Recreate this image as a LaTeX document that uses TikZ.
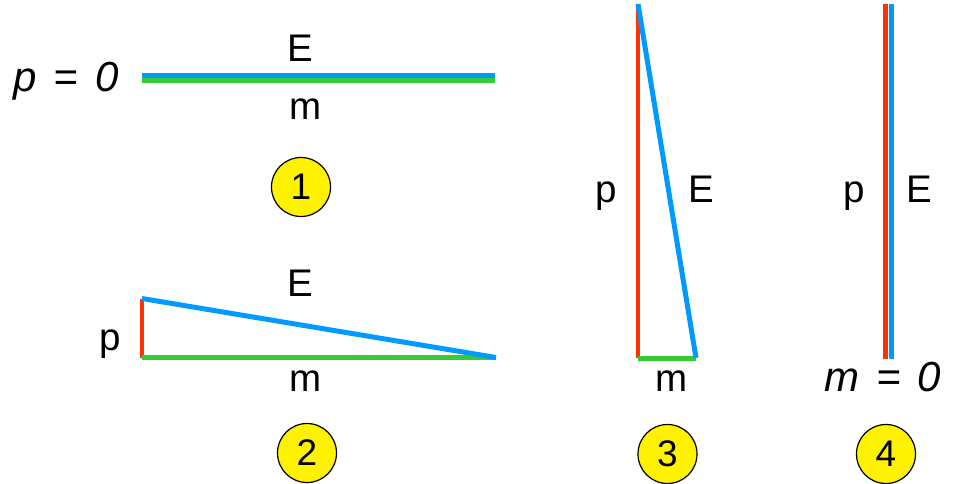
\documentclass[tikz,border=0pt]{standalone}
\usepackage{fontspec}
\setmainfont{Liberation Sans}
\definecolor{Ecol}{RGB}{0,153,255}
\definecolor{mcol}{RGB}{51,204,51}
\definecolor{pcol}{RGB}{255,51,0}
\tikzset{
  lbl/.style={anchor=base,inner sep=0pt,font=\fontsize{38.5}{44}\selectfont},
  eqlbl/.style={anchor=base,inner sep=0pt,font=\fontsize{42}{48}\selectfont\itshape},
  num/.style={circle,draw,line width=1.2pt,fill=yellow,minimum size=59pt,inner sep=0pt,font=\fontsize{37}{44}\selectfont},
  Eline/.style={Ecol,line width=5pt},
  mline/.style={mcol,line width=5pt},
  pline/.style={pcol,line width=4.8pt}
}
\begin{document}
\begin{tikzpicture}[x=1pt,y=-1pt]
    \useasboundingbox (0,0) rectangle (969,484);
    % 1: p = 0
    \coordinate (a1) at (142,76);
    \coordinate (b1) at (495,76);
    \coordinate (c1) at (142,81);
    \coordinate (d1) at (495,81);
    \draw[mline] (c1)--(d1);
    \draw[Eline] (a1)--(b1);
    \node[eqlbl] (peq) at (66,91.5) {p\hspace{0.4em}=\hspace{0.4em}0};
    \node[lbl] (E1) at (300,62) {E};
    \node[lbl] (m1) at (306,120) {m};
    % 2
    \coordinate (a2) at (142,298.5);
    \coordinate (b2) at (142,357.5);
    \coordinate (c2) at (496,357.5);
    \draw[pline] (a2)--(b2);
    \draw[mline] (b2)--(c2);
    \draw[Eline] (a2)--(c2);
    \node[lbl] (E2) at (300,296.5) {E};
    \node[lbl] (p2) at (110,350) {p};
    \node[lbl] (m2) at (306,391) {m};
    % 3
    \coordinate (a3) at (638,4);
    \coordinate (b3) at (638,358);
    \coordinate (c3) at (696,358);
    \draw[pline] (a3)--(b3);
    \draw[mline] (b3)--(c3);
    \draw[Eline] (a3)--(c3);
    \node[lbl] (p3) at (606,202) {p};
    \node[lbl] (E3) at (701,202.5) {E};
    \node[lbl] (m3) at (672,391) {m};
    % 4: m = 0
    \coordinate (a4) at (885.3,4);
    \coordinate (b4) at (885.3,359);
    \coordinate (c4) at (891.7,4);
    \coordinate (d4) at (891.7,359);
    \draw[pline] (a4)--(b4);
    \draw[Eline] (c4)--(d4);
    \node[lbl] (p4) at (854,202) {p};
    \node[lbl] (E4) at (919.5,202.5) {E};
    \node[eqlbl] (meq) at (883,391.5) {m\hspace{0.4em}=\hspace{0.4em}0};
    \foreach \n/\x/\y in {1/301/187,2/307/453,3/667.5/454,4/886/454}
    {\node[num] (n\n) at (\x,\y) {\n};}
\end{tikzpicture}
\end{document}
